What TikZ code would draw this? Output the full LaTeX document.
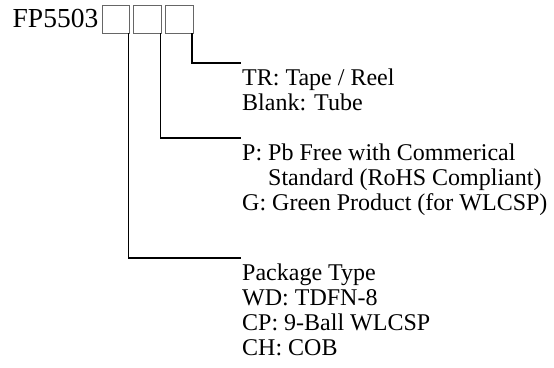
\documentclass[tikz,border=0pt]{standalone}
\usepackage{fontspec}
\setmainfont{Liberation Serif}
\usepackage{tikz}
\usetikzlibrary{positioning}

\begin{document}
\begin{tikzpicture}[
    x=1pt, y=1pt,
    node distance=3.5pt,
    partno/.style={inner sep=0pt, anchor=base west, font=\fontsize{27.5}{30}\selectfont},
    digit/.style={rectangle, draw=black!60, line width=0.8pt, minimum width=27.5pt, minimum height=28pt, inner sep=0pt},
    option/.style={anchor=north west, align=left, inner xsep=1pt, inner ysep=5.6pt, font=\fontsize{24}{25}\selectfont},
    lead/.style={line width=1.2pt, black}
]
    \useasboundingbox (0,0) rectangle (554,-367);

    \node (pn) [partno] at (12.5,-27) {FP5503};
    \node (b1) [digit, anchor=west] at (101.5,-19) {};
    \node (b2) [digit, right=of b1] {};
    \node (b3) [digit, right=of b2] {};

    \node (tr) [option] at (241,-63) {TR: Tape / Reel\\Blank: Tube};
    \node (pb) [option] at (241,-138) {P: Pb Free with Commerical\\\hphantom{P: }Standard (RoHS Compliant)\\G: Green Product (for WLCSP)};
    \node (pkg) [option] at (241,-258) {Package Type\\WD: TDFN-8\\CP: 9-Ball WLCSP\\CH: COB};

    \draw[lead] ([xshift=-1.5pt]b3.south east) |- (tr.north west);
    \draw[lead] ([xshift=-1.5pt]b2.south east) |- (pb.north west);
    \draw[lead] ([xshift=-1.5pt]b1.south east) |- (pkg.north west);
\end{tikzpicture}
\end{document}
